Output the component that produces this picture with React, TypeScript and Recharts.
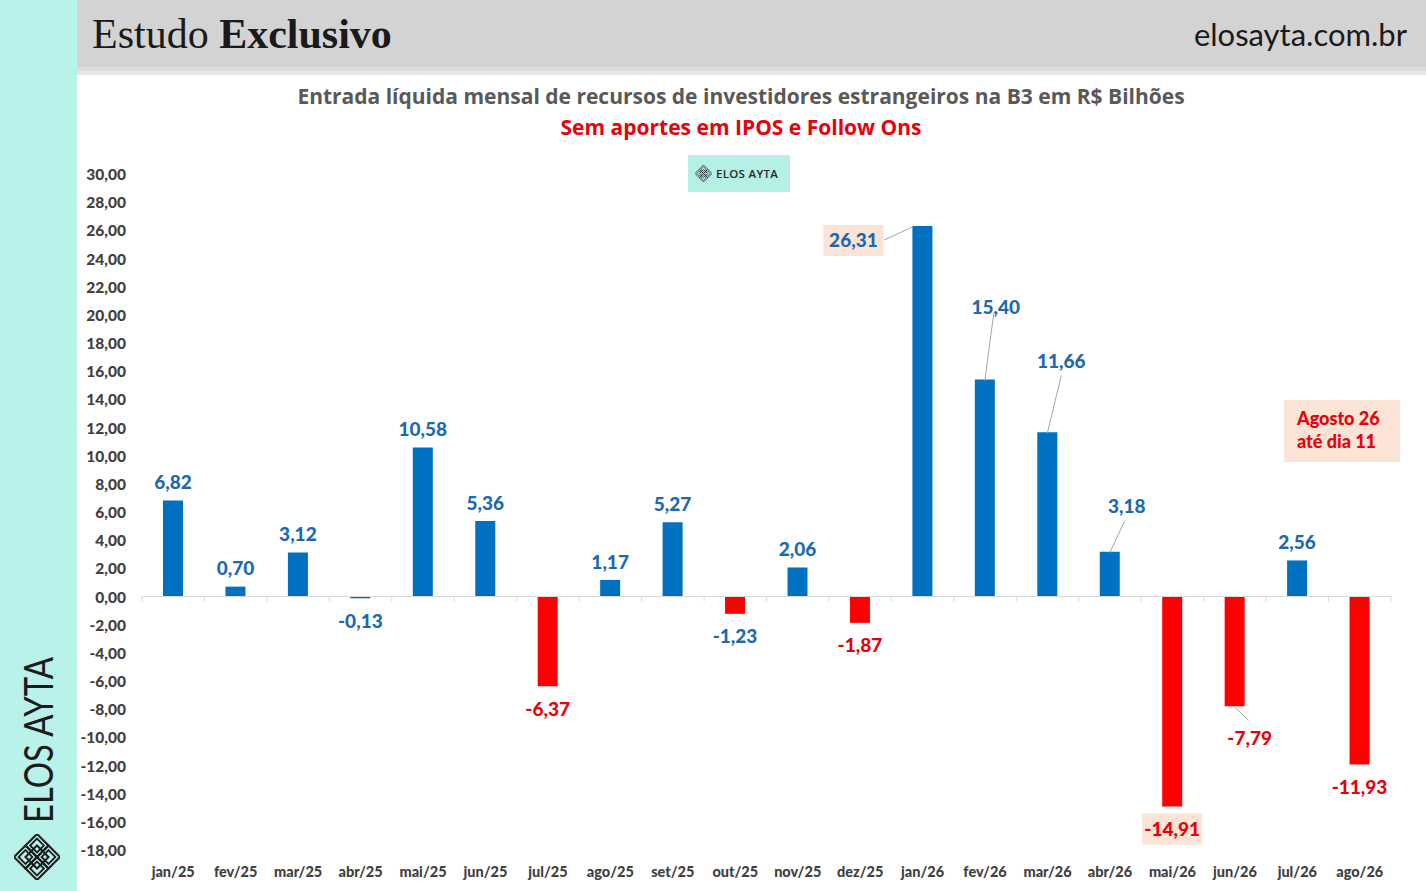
import React from "react";
import { BarChart, Bar, XAxis, YAxis, Cell, LabelList, ReferenceLine } from "recharts";

// monthly net foreign inflow on B3, R$ billions (without IPOs / follow-ons)
const months = [
  "jan/25", "fev/25", "mar/25", "abr/25", "mai/25", "jun/25", "jul/25", "ago/25", "set/25", "out/25",
  "nov/25", "dez/25", "jan/26", "fev/26", "mar/26", "abr/26", "mai/26", "jun/26", "jul/26", "ago/26",
];
const flows = [
  6.82, 0.7, 3.12, -0.13, 10.58, 5.36, -6.37, 1.17, 5.27, -1.23,
  2.06, -1.87, 26.31, 15.4, 11.66, 3.18, -14.91, -7.79, 2.56, -11.93,
];
const yTicks = [30, 28, 26, 24, 22, 20, 18, 16, 14, 12, 10, 8, 6, 4, 2, 0, -2, -4, -6, -8, -10, -12, -14, -16, -18];

const BLUE = "#0070c0";
const RED = "#ff0000";
const LABEL_BLUE = "#1c69b0";
const LABEL_RED = "#e8000b";
const PEACH = "#fbe3d5";

const barColors = [
  BLUE, BLUE, BLUE, BLUE, BLUE, BLUE, RED, BLUE, BLUE, RED,
  BLUE, RED, BLUE, BLUE, BLUE, BLUE, RED, RED, BLUE, RED,
];
const labelColors = [
  LABEL_BLUE, LABEL_BLUE, LABEL_BLUE, LABEL_BLUE, LABEL_BLUE, LABEL_BLUE, LABEL_RED, LABEL_BLUE, LABEL_BLUE, LABEL_BLUE,
  LABEL_BLUE, LABEL_RED, LABEL_BLUE, LABEL_BLUE, LABEL_BLUE, LABEL_BLUE, LABEL_RED, LABEL_RED, LABEL_BLUE, LABEL_RED,
];

// label nudges for the callouts that Excel moved by hand
type Placement = {
  dx: number;
  dy: number;
  box?: boolean;
  leader?: { fx: number; fy: number; to: "topLeft" | "topCenter" | "bottomCenter" };
};
const placements: Record<number, Placement> = {
  12: { dx: -69, dy: 14, box: true, leader: { fx: 31, fy: 0, to: "topLeft" } },
  13: { dx: 11, dy: -73, leader: { fx: -2, fy: 6, to: "topCenter" } },
  14: { dx: 14, dy: -72, leader: { fx: 0, fy: 15, to: "topCenter" } },
  15: { dx: 17, dy: -46, leader: { fx: -2, fy: 15, to: "topCenter" } },
  16: { dx: 0, dy: 22, box: true },
  17: { dx: 15, dy: 31, leader: { fx: -1, fy: -17, to: "bottomCenter" } },
};

const fmt = (v: number) => v.toFixed(2).replace(".", ",");

const chartData = months.map((m, i) => ({ month: m, value: flows[i] }));

const FONT = "Lato, 'Open Sans', sans-serif";

function BarLabel(props: any) {
  const vb = props.viewBox ?? props;
  const x = Number(vb.x ?? props.x);
  const y = Number(vb.y ?? props.y);
  const width = Number(vb.width ?? props.width);
  const height = Number(vb.height ?? props.height);
  const index: number = props.index;
  const v = flows[index];
  const top = Math.min(y, y + height);
  const bottom = Math.max(y, y + height);
  const cx = x + width / 2;
  const neg = v < 0;
  const p = placements[index];
  const baseY = neg ? bottom : top;
  const lx = cx + (p ? p.dx : 0);
  const ly = baseY + (p ? p.dy : neg ? 22 : -19);
  let leader = null;
  if (p?.leader) {
    const tx = p.leader.to === "topLeft" ? x : cx;
    const ty = p.leader.to === "bottomCenter" ? bottom + 1 : top + 1;
    leader = (
      <line x1={lx + p.leader.fx} y1={ly + p.leader.fy} x2={tx} y2={ty} stroke="#a6a6a6" strokeWidth={1} />
    );
  }
  return (
    <g>
      {leader}
      {p?.box && <rect x={lx - 30} y={ly - 15} width={60} height={31} fill={PEACH} />}
      <text
        x={lx}
        y={ly}
        textAnchor="middle"
        dominantBaseline="central"
        fontFamily={FONT}
        fontWeight={900}
        fontSize={19}
        fill={labelColors[index]}
      >
        {fmt(v)}
      </text>
    </g>
  );
}

function ZeroTicks(props: any) {
  const vb = props.viewBox;
  if (!vb) return null;
  const step = vb.width / months.length;
  return (
    <g>
      {months.concat([""]).map((_, i) => (
        <line
          key={i}
          x1={vb.x + i * step}
          x2={vb.x + i * step}
          y1={vb.y}
          y2={vb.y + 5}
          stroke="#d9d9d9"
          strokeWidth={1}
        />
      ))}
    </g>
  );
}

function YTick(props: any) {
  const { y, payload } = props;
  return (
    <text x={126} y={y} textAnchor="end" dominantBaseline="central" fontFamily={FONT} fontWeight={900} fontSize={15.5} fill="#404040">
      {fmt(payload.value)}
    </text>
  );
}

function XTick(props: any) {
  const { x, payload } = props;
  return (
    <text x={x} y={871} textAnchor="middle" dominantBaseline="central" fontFamily={FONT} fontWeight={900} fontSize={14.5} fill="#404040">
      {payload.value}
    </text>
  );
}

function Lattice({ size, color }: { size: number; color: string }) {
  // interlocking diamonds mark
  const s = size / 4;
  const c = size / 2;
  const centers = [
    [c, c - s], [c - s, c], [c + s, c], [c, c + s], [c, c],
  ];
  return (
    <svg width={size} height={size} viewBox={`0 0 ${size} ${size}`}>
      {centers.map(([px, py], i) => (
        <polygon
          key={i}
          points={`${px},${py - s} ${px + s},${py} ${px},${py + s} ${px - s},${py}`}
          fill="none"
          stroke={color}
          strokeWidth={size / 22}
        />
      ))}
      {centers.slice(0, 4).map(([px, py], i) => (
        <polygon
          key={"i" + i}
          points={`${px},${py - s * 0.6} ${px + s * 0.6},${py} ${px},${py + s * 0.6} ${px - s * 0.6},${py}`}
          fill="none"
          stroke={color}
          strokeWidth={size / 26}
        />
      ))}
    </svg>
  );
}

export default function App() {
  return (
    <div style={{ position: "relative", width: 1426, height: 891, overflow: "hidden", background: "#ffffff", fontFamily: FONT }}>
      <style>{`body{margin:0}`}</style>

      {/* left brand strip */}
      <div style={{ position: "absolute", left: 0, top: 0, width: 77, height: 891, background: "#b9f2ea" }}>
        <svg width={77} height={891} style={{ position: "absolute", left: 0, top: 0 }}>
          <text
            x={0}
            y={0}
            transform="translate(53 823) rotate(-90)"
            fontFamily="Lato, 'Open Sans', sans-serif"
            fontWeight={400}
            fontSize={41}
            textLength={166}
            lengthAdjust="spacingAndGlyphs"
            fill="#1c1c1c"
          >
            ELOS AYTA
          </text>
        </svg>
        <div style={{ position: "absolute", left: 14, top: 834 }}>
          <Lattice size={46} color="#1c1c1c" />
        </div>
      </div>

      {/* header band */}
      <div style={{ position: "absolute", left: 77, top: 0, width: 1349, height: 67, background: "#d3d3d3" }} />
      <div style={{ position: "absolute", left: 77, top: 67, width: 1349, height: 4, background: "#dcdcdc" }} />
      <div style={{ position: "absolute", left: 77, top: 71, width: 1349, height: 4, background: "#e6e6e6" }} />
      <div
        style={{
          position: "absolute",
          left: 92,
          top: 10,
          fontFamily: "'Liberation Serif', 'DejaVu Serif', serif",
          fontSize: 42,
          lineHeight: "48px",
          color: "#1a1a1a",
          whiteSpace: "nowrap",
        }}
      >
        Estudo <b>Exclusivo</b>
      </div>
      <div
        style={{
          position: "absolute",
          right: 19,
          top: 14,
          fontFamily: FONT,
          fontSize: 31,
          lineHeight: "40px",
          color: "#1a1a1a",
          whiteSpace: "nowrap",
        }}
      >
        elosayta.com.br
      </div>

      {/* titles */}
      <div
        style={{
          position: "absolute",
          left: 77,
          width: 1328,
          top: 82,
          textAlign: "center",
          fontFamily: "'Open Sans', sans-serif",
          fontWeight: 700,
          fontSize: 21,
          lineHeight: "28px",
          color: "#595959",
          whiteSpace: "nowrap",
        }}
      >
        Entrada líquida mensal de recursos de investidores estrangeiros na B3 em R$ Bilhões
      </div>
      <div
        style={{
          position: "absolute",
          left: 77,
          width: 1328,
          top: 113,
          textAlign: "center",
          fontFamily: "'Open Sans', sans-serif",
          fontWeight: 700,
          fontSize: 21,
          lineHeight: "28px",
          color: "#e8000b",
          whiteSpace: "nowrap",
        }}
      >
        Sem aportes em IPOS e Follow Ons
      </div>

      {/* small logo badge */}
      <div
        style={{
          position: "absolute",
          left: 688,
          top: 155,
          width: 102,
          height: 37,
          background: "#b4f0e6",
          display: "flex",
          alignItems: "center",
          gap: 4,
          paddingLeft: 7,
          boxSizing: "border-box",
        }}
      >
        <Lattice size={17} color="#2a2a2a" />
        <span style={{ fontFamily: "'Open Sans', sans-serif", fontSize: 11.5, fontWeight: 600, color: "#2a2a2a", letterSpacing: 0.3 }}>
          ELOS AYTA
        </span>
      </div>

      {/* "August until day 11" note */}
      <div
        style={{
          position: "absolute",
          left: 1284,
          top: 400,
          width: 116,
          height: 62,
          background: PEACH,
          boxSizing: "border-box",
          paddingLeft: 13,
          paddingTop: 7,
          fontFamily: FONT,
          fontWeight: 900,
          fontSize: 18,
          lineHeight: "23px",
          color: "#e8000b",
        }}
      >
        Agosto 26
        <br />
        até dia 11
      </div>

      <div style={{ position: "absolute", left: 0, top: 0 }}>
        <BarChart width={1426} height={891} data={chartData} margin={{ top: 174, right: 35, bottom: 0, left: 0 }}>
          <YAxis
            width={142}
            domain={[-18, 30]}
            ticks={yTicks}
            interval={0}
            axisLine={false}
            tickLine={false}
            tick={<YTick />}
          />
          <XAxis dataKey="month" height={41} interval={0} axisLine={false} tickLine={false} tick={<XTick />} />
          <ReferenceLine y={0} stroke="#d9d9d9" strokeWidth={1} label={<ZeroTicks />} />
          <Bar dataKey="value" barSize={20} isAnimationActive={false}>
            {chartData.map((_, i) => (
              <Cell key={i} fill={barColors[i]} />
            ))}
            <LabelList dataKey="value" content={<BarLabel />} />
          </Bar>
        </BarChart>
      </div>
    </div>
  );
}
